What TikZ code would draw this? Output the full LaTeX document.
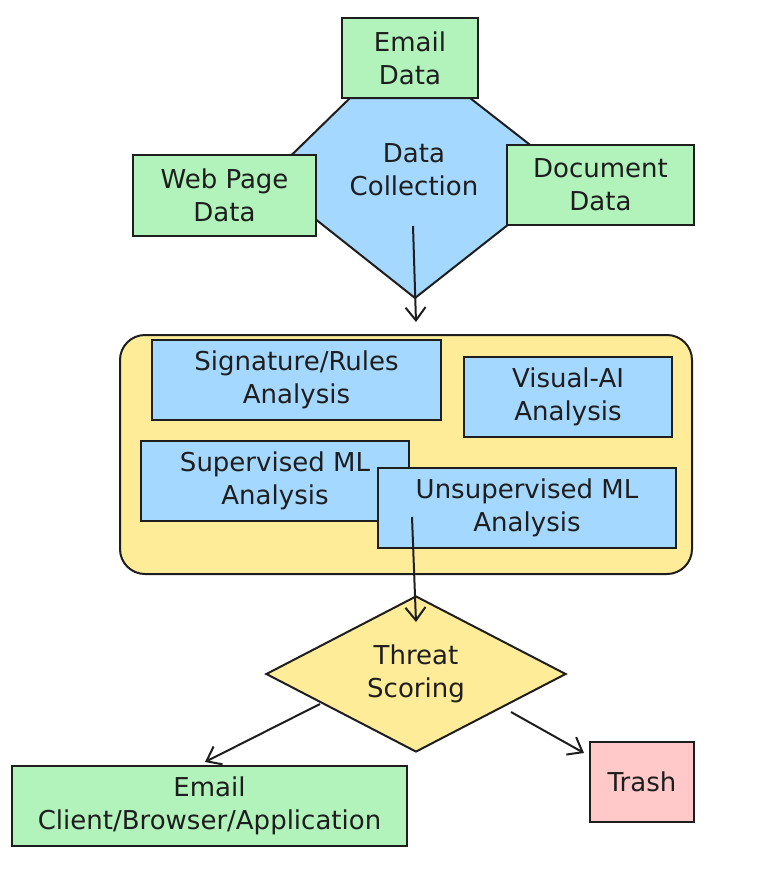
\documentclass[tikz,border=0pt]{standalone}
\usepackage{fontspec}
\setmainfont{DejaVu Sans}
\usetikzlibrary{shapes.geometric,arrows.meta}

\definecolor{ink}{HTML}{1E1E1E}
\definecolor{sourcegreen}{HTML}{B2F2BB}
\definecolor{stageblue}{HTML}{A5D8FF}
\definecolor{scoreyellow}{HTML}{FFEC99}
\definecolor{trashred}{HTML}{FFC9C9}

\begin{document}
\begin{tikzpicture}[x=1pt,y=-1pt,
  font=\fontsize{26}{33}\selectfont,
  every node/.append style={text=ink},
  block/.style={draw=ink,line width=2pt,align=center,inner sep=0pt},
  source/.style={block,fill=sourcegreen},
  stage/.style={block,fill=stageblue},
  flow/.style={draw=ink,line width=2pt,-{Straight Barb[length=13pt,width=20pt]}}]

  \useasboundingbox (0,0) rectangle (770,876);

  % Data collection

  \path[fill=stageblue,draw=ink,line width=2pt]
    (350,98) -- (266,180) -- (415,298) -- (570,176) -- (470,98) -- cycle;
  \node [align=center] (col) at (414,170) {Data\\Collection};

  \node [source,minimum width=136pt,minimum height=80pt] (email) at (410,58) {Email\\Data};
  \node [source,minimum width=183pt,minimum height=81pt] (web) at (224.5,195.5) {Web Page\\Data};
  \node [source,minimum width=187pt,minimum height=80pt] (doc) at (600.5,185) {Document\\Data};

  % Analysis engines

  \node [draw=ink,line width=2pt,fill=scoreyellow,rounded corners=25pt,
    minimum width=572pt,minimum height=239pt] (engine) at (406,454.5) {};
  \node [stage,minimum width=289pt,minimum height=80pt] (sig) at (296.5,380) {Signature/Rules\\Analysis};
  \node [stage,minimum width=208pt,minimum height=80pt] (vis) at (568,397) {Visual-AI\\Analysis};
  \node [stage,minimum width=268pt,minimum height=80pt] (sup) at (275,481) {Supervised ML\\Analysis};
  \node [stage,minimum width=298pt,minimum height=80pt] (unsup) at (527,508) {Unsupervised ML\\Analysis};

  % Scoring and outcome

  \node [block,shape=diamond,aspect=2,fill=scoreyellow,
    minimum width=300pt,minimum height=156pt] (score) at (416,674) {Threat\\Scoring};
  \node [source,minimum width=395pt,minimum height=80pt] (client) at (209.5,806) {Email\\Client/Browser/Application};
  \node [block,fill=trashred,minimum width=104pt,minimum height=80pt] (trash) at (642,782) {Trash};

  % Connections

  \coordinate (colout) at (413,226);
  \coordinate (enginein) at (416,322);
  \coordinate (unsupout) at (412,517);
  \coordinate (scorein) at (416,622);
  \coordinate (passout) at (320,704);
  \coordinate (clientin) at (205,762);
  \coordinate (dropout) at (511,712);
  \coordinate (trashin) at (584,753);

  \draw [flow] (colout) -- (enginein);
  \draw [flow] (unsupout) -- (scorein);
  \draw [flow] (passout) -- (clientin);
  \draw [flow] (dropout) -- (trashin);
\end{tikzpicture}
\end{document}
